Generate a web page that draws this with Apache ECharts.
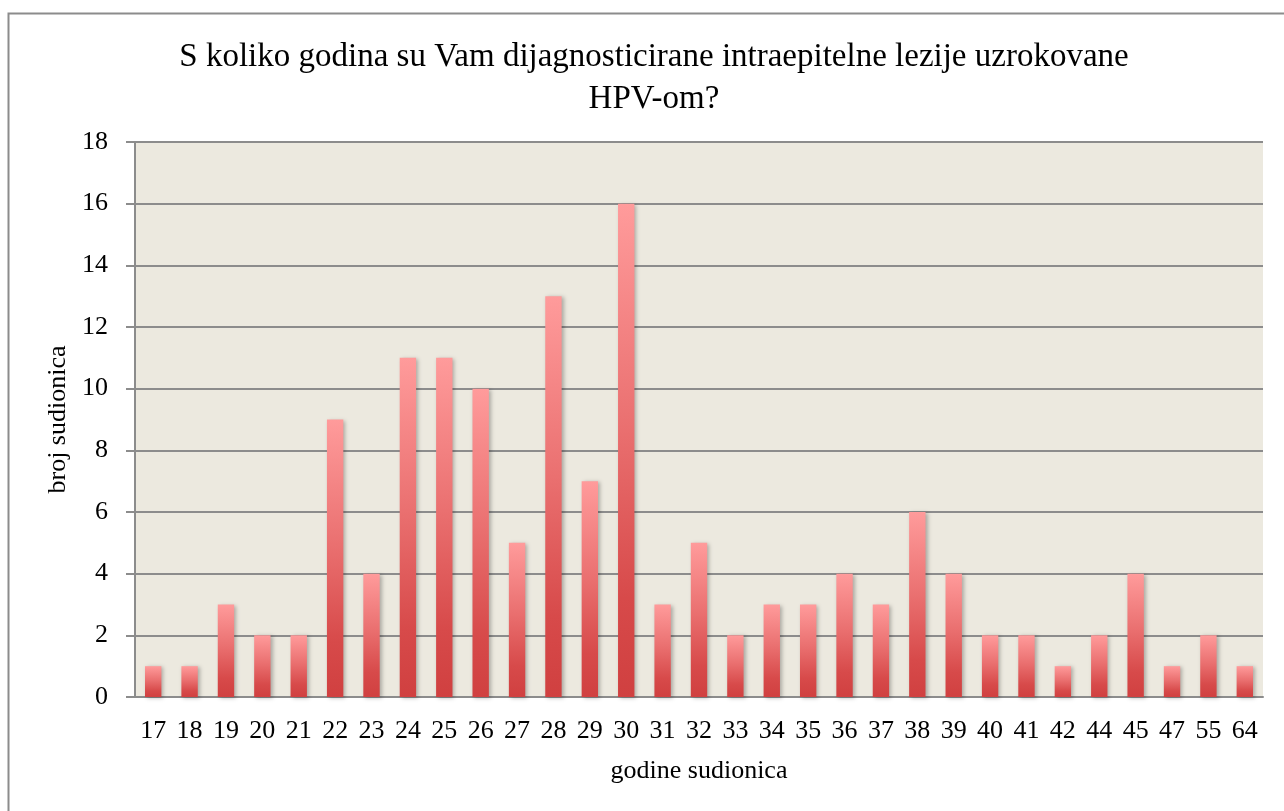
<!DOCTYPE html>
<html>
<head>
<meta charset="utf-8">
<script src="https://cdn.jsdelivr.net/npm/echarts@6/dist/echarts.min.js"></script>
<style>
  html, body { margin: 0; padding: 0; background: #fff; }
  #main { width: 1284px; height: 811px; }
</style>
</head>
<body>
<div id="main"></div>
<script>
// godine sudionica (kategorije) i broj sudionica
var ages = ['17', '18', '19', '20', '21', '22', '23', '24', '25', '26', '27', '28', '29', '30', '31', '32',
  '33', '34', '35', '36', '37', '38', '39', '40', '41', '42', '44', '45', '47', '55', '64'];
var counts = [1, 1, 3, 2, 2, 9, 4, 11, 11, 10, 5, 13, 7, 16, 3, 5,
  2, 3, 3, 4, 3, 6, 4, 2, 2, 1, 2, 4, 1, 2, 1];
var titleText = 'S koliko godina su Vam dijagnosticirane intraepitelne lezije uzrokovane\nHPV-om?';

var font = 'Liberation Serif';
var myChart = echarts.init(document.getElementById('main'));

var option = {
  backgroundColor: '#ffffff',
  animation: false,
  graphic: [{
    type: 'rect',
    shape: { x: 8.5, y: 13.5, width: 1290, height: 820 },
    style: { fill: 'none', stroke: '#8c8c8c', lineWidth: 2 },
    z: 0
  }],
  title: {
    text: titleText,
    left: 649,
    top: 31,
    textAlign: 'center',
    textStyle: {
      fontFamily: font,
      fontSize: 33,
      fontWeight: 'normal',
      color: '#000',
      lineHeight: 42
    }
  },
  grid: {
    left: 135,
    right: 21,
    top: 142,
    bottom: 114,
    show: true,
    backgroundColor: '#ece9df',
    borderWidth: 0
  },
  xAxis: {
    type: 'category',
    data: ages,
    name: 'godine sudionica',
    nameLocation: 'middle',
    nameGap: 61,
    nameTextStyle: { fontFamily: font, fontSize: 26, color: '#000' },
    axisLine: { lineStyle: { color: '#8c8c8c', width: 2 } },
    axisTick: { show: false },
    axisLabel: { fontFamily: font, fontSize: 26, color: '#000', margin: 21, interval: 0 }
  },
  yAxis: {
    type: 'value',
    min: 0,
    max: 18,
    interval: 2,
    name: 'broj sudionica',
    nameLocation: 'middle',
    nameGap: 62,
    nameTextStyle: { fontFamily: font, fontSize: 26, color: '#000' },
    axisLine: { show: true, lineStyle: { color: '#8c8c8c', width: 2 } },
    axisTick: { show: true, inside: false, length: 9, lineStyle: { color: '#8c8c8c', width: 2 } },
    axisLabel: { fontFamily: font, fontSize: 26, color: '#000', margin: 27 },
    splitLine: { lineStyle: { color: '#8c8c8c', width: 2 } }
  },
  series: [{
    type: 'bar',
    data: counts,
    barWidth: '45%',
    itemStyle: {
      color: new echarts.graphic.LinearGradient(0, 0, 0, 1, [
        { offset: 0, color: '#ff9b9b' },
        { offset: 0.45, color: '#ea7070' },
        { offset: 0.8, color: '#d74a4a' },
        { offset: 1, color: '#d04040' }
      ]),
      shadowColor: 'rgba(0,0,0,0.28)',
      shadowBlur: 4,
      shadowOffsetX: 2,
      shadowOffsetY: 1
    }
  }]
};

myChart.setOption(option);
</script>
</body>
</html>
